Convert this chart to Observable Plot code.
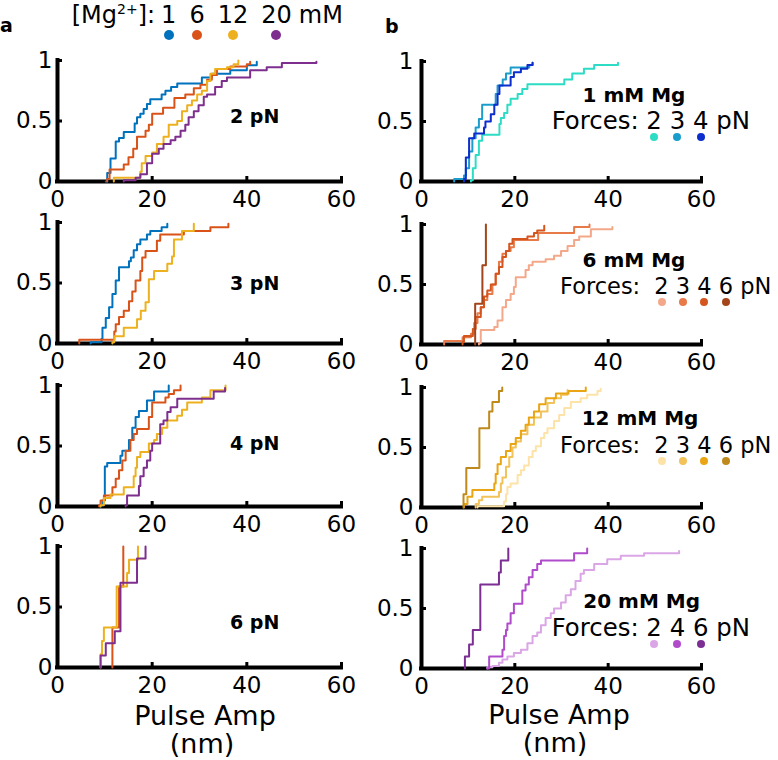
<!DOCTYPE html>
<html>
<head>
<meta charset="utf-8">
<script src="https://cdn.jsdelivr.net/npm/d3@7"></script>
<script src="https://cdn.jsdelivr.net/npm/@observablehq/plot@0.6"></script>
<style>
html, body { margin: 0; padding: 0; background: #fff; }
#fig { position: relative; width: 778px; height: 760px; overflow: hidden; font-family: "DejaVu Sans", sans-serif; color: #000; background: #fff; }
.abs { position: absolute; white-space: nowrap; line-height: 1; }
.panel { position: absolute; }
.num { position: relative; display: inline-block; }
.dot { position: absolute; left: 50%; border-radius: 50%; transform: translateX(-50%); }
</style>
</head>
<body>
<div id="fig"></div>
<script>
// ---------- axis ticks ----------
const xTicks = [0, 20, 40, 60];
const yTicks = [0, 0.5, 1];

// ---------- panel a: colours by [Mg2+] ----------
const mgLevels = [1, 6, 12, 20];
const mgColors = ["#0072BD", "#D95319", "#EDB120", "#7E2F8E"];
const forcesA = ["2 pN", "3 pN", "4 pN", "6 pN"];

// 2 pN : [pulse amplitude (nm), cumulative fraction]
const a2_mg1 = [[10.2,0],[10.5,0.07],[11.2,0.19],[12.3,0.33],[13.0,0.36],[14.0,0.41],[16.3,0.48],[16.8,0.53],[17.5,0.56],[18.2,0.6],[18.9,0.64],[19.6,0.68],[22.0,0.72],[22.8,0.75],[24.0,0.78],[25.3,0.81],[30.5,0.86],[32.6,0.89],[36.5,0.92],[40.0,0.96],[42.1,0.99]];
const a2_mg6 = [[10.5,0],[10.5,0.02],[11.0,0.1],[14.0,0.14],[15.0,0.2],[16.0,0.27],[16.8,0.37],[18.6,0.42],[19.3,0.47],[20.0,0.56],[22.3,0.61],[24.7,0.69],[27.0,0.72],[28.8,0.77],[30.2,0.8],[31.6,0.84],[32.6,0.88],[33.7,0.93],[36.5,0.95],[40.0,0.97],[40.7,0.99]];
const a2_mg12 = [[11.9,0],[11.9,0.03],[17.5,0.08],[17.8,0.15],[18.6,0.21],[20.0,0.24],[21.0,0.31],[22.4,0.37],[23.5,0.47],[25.3,0.5],[26.3,0.58],[27.4,0.63],[28.4,0.67],[29.5,0.72],[30.5,0.75],[31.6,0.83],[32.3,0.89],[33.3,0.93],[35.8,0.945],[37.2,0.97],[38.2,1.0]];
const a2_mg20 = [[14.0,0],[14.0,0.01],[16.5,0.03],[17.5,0.06],[18.9,0.15],[20.0,0.23],[21.4,0.27],[22.4,0.31],[23.9,0.34],[24.9,0.37],[26.0,0.42],[27.0,0.47],[27.7,0.53],[28.8,0.58],[29.8,0.63],[30.9,0.7],[31.6,0.72],[33.3,0.78],[34.7,0.83],[35.8,0.86],[40.7,0.92],[44.2,0.945],[47.4,0.98],[54.7,0.99]];
// 3 pN
const a3_mg1 = [[7.0,0],[7.0,0.01],[9.3,0.04],[9.5,0.13],[10.2,0.21],[10.9,0.3],[11.6,0.41],[12.3,0.52],[13.0,0.63],[15.1,0.68],[15.5,0.71],[16.1,0.77],[16.8,0.82],[17.5,0.86],[18.9,0.9],[19.6,0.93],[22.0,0.96],[23.2,0.99]];
const a3_mg6 = [[4.6,0],[4.6,0.03],[12.0,0.1],[12.3,0.16],[13.0,0.22],[14.0,0.27],[15.1,0.35],[15.8,0.43],[16.5,0.52],[17.5,0.6],[17.9,0.71],[18.6,0.765],[21.0,0.85],[21.7,0.9],[26.7,0.93],[32.3,0.96],[36.1,0.99]];
const a3_mg12 = [[11.6,0],[11.6,0.01],[12.0,0.06],[14.0,0.13],[16.8,0.2],[17.6,0.27],[18.6,0.34],[19.3,0.53],[20.4,0.6],[23.2,0.66],[24.2,0.72],[24.6,0.86],[26.3,0.93],[28.8,0.99]];
// 4 pN
const a4_mg1 = [[9.1,0],[9.1,0.01],[9.5,0.05],[10.0,0.33],[10.5,0.36],[13.3,0.42],[13.7,0.46],[15.1,0.55],[15.8,0.65],[16.5,0.74],[17.2,0.79],[18.9,0.876],[20.4,0.95],[23.5,1.0]];
const a4_mg6 = [[8.8,0],[8.8,0.01],[9.1,0.05],[9.8,0.09],[11.6,0.16],[12.3,0.23],[13.0,0.3],[13.7,0.38],[14.4,0.46],[15.4,0.55],[16.1,0.6],[16.8,0.64],[19.3,0.74],[20.0,0.86],[22.8,0.9],[23.5,0.93],[24.6,0.96],[26.0,1.0]];
const a4_mg12 = [[9.1,0],[9.1,0.01],[9.8,0.07],[11.2,0.1],[14.0,0.16],[16.1,0.25],[16.5,0.32],[16.8,0.41],[17.5,0.45],[19.3,0.52],[20.4,0.55],[21.0,0.6],[22.1,0.65],[23.2,0.71],[25.3,0.75],[26.3,0.8],[27.4,0.86],[30.5,0.9],[32.3,0.96],[35.5,1.0]];
const a4_mg20 = [[14.4,0],[14.4,0.01],[14.7,0.09],[17.2,0.17],[17.5,0.25],[18.2,0.32],[18.9,0.38],[19.6,0.46],[20.0,0.52],[21.7,0.68],[22.4,0.71],[23.2,0.78],[23.9,0.82],[25.3,0.89],[33.0,0.95],[35.4,0.98]];
// 6 pN
const a6_mg6 = [[11.6,0],[11.6,0.33],[13.0,0.67],[13.9,1.0]];
const a6_mg12 = [[9.1,0],[9.1,0.11],[9.4,0.22],[9.8,0.33],[12.5,0.67],[14.7,0.78],[15.1,0.89],[17.0,1.0]];
const a6_mg20 = [[9.1,0],[9.1,0.1],[10.2,0.2],[12.1,0.3],[13.3,0.7],[16.8,0.9],[18.6,1.0]];

// ---------- panel b: colours by force ----------
const b1_forces = [2, 3, 4];
const b1_colors = ["#2ddcc4", "#1b9dcc", "#0b2ecc"];
const b1_f2 = [[10.6,0],[10.6,0.01],[11.0,0.11],[11.6,0.22],[12.3,0.34],[13.0,0.39],[16.7,0.48],[17.0,0.53],[17.7,0.57],[18.4,0.64],[19.1,0.69],[20.6,0.73],[21.6,0.77],[22.7,0.81],[30.6,0.85],[32.3,0.9],[34.8,0.94],[37.0,0.97],[42.1,0.99]];
const b1_f3 = [[7.0,0],[7.0,0.02],[9.1,0.05],[9.5,0.11],[10.2,0.25],[10.9,0.36],[11.6,0.45],[12.3,0.52],[13.0,0.64],[15.9,0.73],[16.3,0.8],[17.4,0.85],[18.1,0.9],[19.1,0.95],[23.1,0.97],[23.8,0.99]];
const b1_f4 = [[9.1,0],[9.1,0.02],[9.5,0.2],[10.2,0.36],[11.3,0.4],[13.4,0.45],[13.7,0.5],[14.85,0.56],[15.6,0.64],[16.3,0.73],[16.7,0.8],[19.1,0.87],[19.8,0.91],[21.3,0.94],[22.7,0.97],[23.8,0.99]];

const b6_forces = [2, 3, 4, 6];
const b6_colors = ["#f4a88a", "#e87a4a", "#d4561e", "#a3441a"];
const b6_f2 = [[12.3,0],[12.3,0.01],[12.7,0.12],[15.6,0.145],[16.3,0.2],[17.35,0.31],[18.1,0.37],[19.1,0.42],[19.8,0.48],[20.2,0.56],[22.3,0.62],[23.0,0.66],[23.8,0.69],[26.6,0.71],[28.4,0.74],[29.9,0.78],[31.3,0.82],[32.7,0.87],[33.8,0.9],[36.3,0.96],[40.9,0.98]];
const b6_f3 = [[4.85,0],[4.85,0.03],[8.8,0.06],[10.6,0.09],[11.3,0.18],[12.0,0.26],[12.7,0.31],[13.4,0.37],[14.1,0.42],[15.2,0.5],[15.9,0.59],[16.6,0.69],[17.35,0.756],[18.1,0.78],[19.1,0.81],[19.8,0.87],[25.0,0.93],[32.7,0.98],[36.0,1.0]];
const b6_f4 = [[8.8,0],[8.8,0.02],[9.1,0.07],[11.0,0.13],[11.6,0.23],[12.7,0.31],[13.4,0.4],[14.1,0.45],[14.85,0.5],[15.9,0.59],[16.6,0.645],[17.35,0.73],[18.1,0.78],[18.8,0.84],[19.5,0.88],[22.7,0.9],[24.1,0.93],[24.8,0.95],[26.3,0.99]];
const b6_f6 = [[11.5,0],[11.5,0.34],[13.05,0.66],[13.8,1.0]];

const b12_forces = [2, 3, 4, 6];
const b12_colors = ["#fde3a8", "#f1c35a", "#eaa514", "#bf8a1c"];
const b12_f2 = [[12.0,0],[12.0,0.01],[17.7,0.05],[18.1,0.11],[18.4,0.17],[19.1,0.2],[20.6,0.27],[21.3,0.31],[22.0,0.35],[23.0,0.42],[23.8,0.47],[24.5,0.51],[25.6,0.58],[26.3,0.62],[27.0,0.66],[28.4,0.72],[29.5,0.77],[30.6,0.83],[32.0,0.88],[34.1,0.91],[35.5,0.94],[37.7,0.97],[38.4,0.99]];
const b12_f3 = [[11.6,0],[11.6,0.03],[12.3,0.06],[13.0,0.09],[16.6,0.13],[17.0,0.2],[17.35,0.25],[18.1,0.34],[18.8,0.42],[19.5,0.5],[20.2,0.55],[21.3,0.61],[22.7,0.69],[24.1,0.75],[25.6,0.8],[27.0,0.87],[28.4,0.91],[29.9,0.94],[31.3,0.98]];
const b12_f4 = [[9.1,0],[9.1,0.03],[9.85,0.09],[10.9,0.145],[15.6,0.2],[15.9,0.28],[16.3,0.36],[17.0,0.42],[18.1,0.47],[19.1,0.53],[20.2,0.58],[21.3,0.64],[22.3,0.69],[23.0,0.75],[24.1,0.8],[25.2,0.86],[26.6,0.91],[28.8,0.95],[31.5,0.97],[35.2,1.0]];
const b12_f6 = [[9.0,0],[9.0,0.11],[9.6,0.33],[12.4,0.66],[14.5,0.8],[15.2,0.88],[16.6,0.97],[17.3,1.0]];

const b20_forces = [2, 4, 6];
const b20_colors = ["#dba6e6", "#b04bcb", "#7c2e93"];
const b20_f2 = [[14.1,0],[14.1,0.01],[15.2,0.02],[16.6,0.047],[17.35,0.075],[18.4,0.1],[19.8,0.13],[21.3,0.156],[22.7,0.21],[23.8,0.27],[24.8,0.3],[25.6,0.36],[26.6,0.42],[27.7,0.46],[28.4,0.5],[29.9,0.55],[30.9,0.61],[32.0,0.66],[33.0,0.73],[34.1,0.79],[34.8,0.82],[37.0,0.87],[39.8,0.91],[42.7,0.94],[47.7,0.96],[55.2,0.98]];
const b20_f4 = [[14.1,0],[14.5,0.1],[17.35,0.156],[17.7,0.27],[18.1,0.32],[18.4,0.376],[19.1,0.46],[19.8,0.54],[21.6,0.65],[22.3,0.7],[23.0,0.76],[23.8,0.82],[24.8,0.87],[25.6,0.9],[32.7,0.96],[35.5,1.0]];
const b20_f6 = [[9.3,0],[9.3,0.1],[10.2,0.2],[11.0,0.32],[12.6,0.7],[16.6,0.8],[17.0,0.9],[18.6,1.0]];

const mgTitles = ["1 mM Mg", "6 mM Mg", "12 mM Mg", "20 mM Mg"];
const xTitle = ["Pulse Amp", "(nm)"];

// ---------- tables built from the arrays ----------
const panelsA = [
  {series: [a2_mg1, a2_mg6, a2_mg12, a2_mg20], colors: mgColors, label: forcesA[0]},
  {series: [a3_mg1, a3_mg6, a3_mg12], colors: mgColors.slice(0, 3), label: forcesA[1]},
  {series: [a4_mg1, a4_mg6, a4_mg12, a4_mg20], colors: mgColors, label: forcesA[2]},
  {series: [a6_mg6, a6_mg12, a6_mg20], colors: mgColors.slice(1), label: forcesA[3]}
];
const panelsB = [
  {series: [b1_f2, b1_f3, b1_f4], colors: b1_colors, forces: b1_forces, title: mgTitles[0]},
  {series: [b6_f2, b6_f3, b6_f4, b6_f6], colors: b6_colors, forces: b6_forces, title: mgTitles[1]},
  {series: [b12_f2, b12_f3, b12_f4, b12_f6], colors: b12_colors, forces: b12_forces, title: mgTitles[2]},
  {series: [b20_f2, b20_f4, b20_f6], colors: b20_colors, forces: b20_forces, title: mgTitles[3]}
];

// ---------- layout ----------
const fig = document.getElementById("fig");
const MT = 10, MB = 40;
const colA = {left: 0, width: 380, ml: 57, mr: 39, h: 121, tops: [60, 222, 385, 546], yPad: 10};
const colB = {left: 380, width: 398, ml: 41, mr: 77, h: 120, tops: [61, 224, 387, 548], yPad: 13};

function makePanel(p, col, i) {
  const svg = Plot.plot({
    width: col.width,
    height: MT + col.h + MB,
    marginLeft: col.ml, marginRight: col.mr, marginTop: MT, marginBottom: MB,
    style: {background: "transparent", overflow: "visible", fontFamily: "DejaVu Sans, sans-serif", color: "black"},
    x: {domain: [0, 60]},
    y: {domain: [0, 1]},
    marks: [
      Plot.axisX(xTicks, {tickSize: -5, tickPadding: 14, strokeWidth: 3, fontSize: 23, label: null}),
      Plot.axisY(yTicks, {tickSize: -5, tickPadding: col.yPad, strokeWidth: 3, fontSize: 23, label: null, tickFormat: d => String(d)}),
      Plot.ruleY([0], {strokeWidth: 4, strokeLinecap: "square"}),
      Plot.ruleX([0], {strokeWidth: 4, strokeLinecap: "square"}),
      ...p.series.map((s, k) => Plot.line(s, {x: d => d[0], y: d => d[1], curve: "step-after", stroke: p.colors[k], strokeWidth: 2}))
    ]
  });
  const div = document.createElement("div");
  div.className = "panel";
  div.style.left = col.left + "px";
  div.style.top = (col.tops[i] - MT) + "px";
  div.style.width = col.width + "px";
  div.appendChild(svg);
  fig.appendChild(div);
}
panelsA.forEach((p, i) => makePanel(p, colA, i));
panelsB.forEach((p, i) => makePanel(p, colB, i));

// text helper: x = left (or centre), baseline position
function place(html, x, baseline, fs, {bold = false, center = false} = {}) {
  const d = document.createElement("div");
  d.className = "abs";
  d.innerHTML = html;
  d.style.fontSize = fs + "px";
  d.style.left = x + "px";
  d.style.top = (baseline - 0.846 * fs) + "px";
  if (bold) d.style.fontWeight = "bold";
  if (center) d.style.transform = "translateX(-50%)";
  fig.appendChild(d);
  return d;
}
function dotSpan(label, color, size, offset, ml) {
  return `<span class="num"${ml ? ` style="margin-left:${ml}px"` : ""}>${label}<i class="dot" style="width:${size}px;height:${size}px;top:calc(100% + ${offset}px);background:${color}"></i></span>`;
}

// panel letters
place("a", 0, 32, 19, {bold: true});
place("b", 385, 33, 19, {bold: true});

// top legend
place(`[Mg<span style="font-size:14px;position:relative;top:-9px">2+</span>]:` +
  mgLevels.map((m, i) => dotSpan(m, mgColors[i], 10, 3, i ? 13 : 6)).join("") +
  `<span style="margin-left:7px">mM</span>`, 71.7, 23, 24);

// panel a annotations
const aBase = [123.3, 290, 450, 629.3];
panelsA.forEach((p, i) => place(p.label, 230, aBase[i], 19, {bold: true}));

// panel b annotations
const bTitle = [{x: 634, b: 101.7}, {x: 634, b: 266.7}, {x: 640, b: 425}, {x: 641.7, b: 608.3}];
const bForces = [{x: 551.7, b: 129.3, fs: 24.4, ml: 0}, {x: 560, b: 294.3, fs: 22.5, ml: 7}, {x: 560, b: 453.3, fs: 22.5, ml: 7}, {x: 551.7, b: 636.7, fs: 24.4, ml: 0}];
panelsB.forEach((p, i) => {
  place(p.title, bTitle[i].x, bTitle[i].b, 20, {bold: true, center: true});
  place("Forces: " + p.forces.map((f, k) => dotSpan(f, p.colors[k], 8, 0, k === 0 ? bForces[i].ml : 0)).join(" ") + " pN",
    bForces[i].x, bForces[i].b, bForces[i].fs);
});

// x axis titles
place(xTitle[0], 205, 725, 27, {center: true});
place(xTitle[1], 202, 753, 27, {center: true});
place(xTitle[0], 559, 723.5, 27, {center: true});
place(xTitle[1], 555, 751.5, 27, {center: true});
</script>
</body>
</html>
